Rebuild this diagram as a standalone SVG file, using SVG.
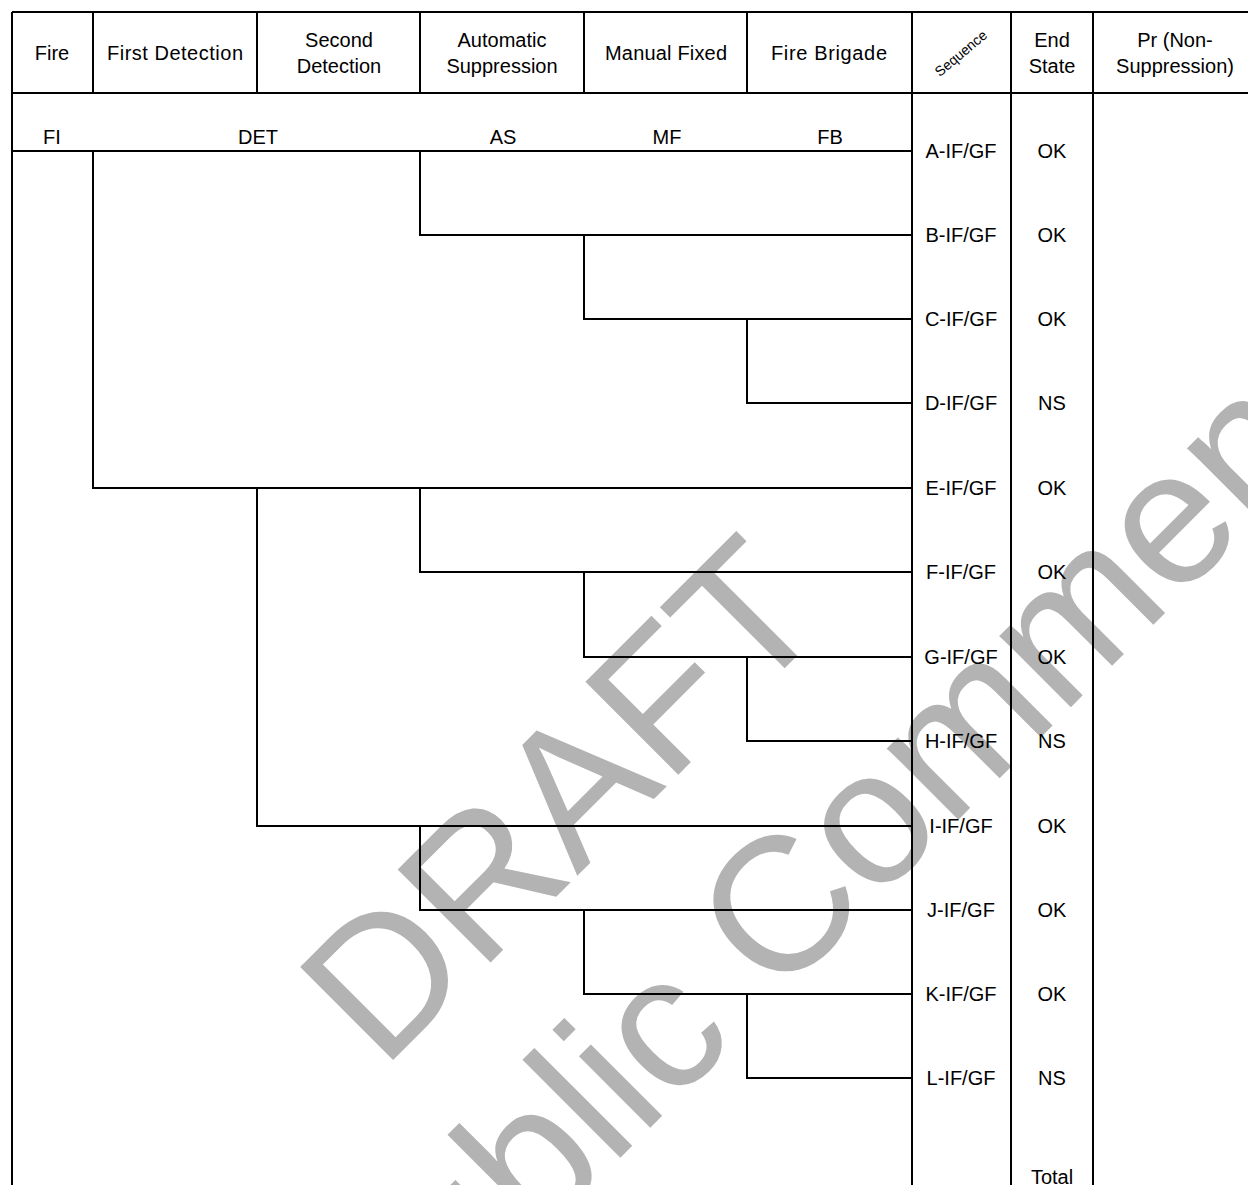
<svg xmlns="http://www.w3.org/2000/svg" width="1248" height="1185" viewBox="0 0 1248 1185">
<style>
.t{font-family:"Liberation Sans",Arial,sans-serif;font-size:20px;fill:#000;text-anchor:middle}
.wm{font-family:"Liberation Sans",Arial,sans-serif;font-size:191px;fill:#b3b3b3}
.g{stroke:#000;stroke-width:2;fill:none}
</style>
<rect width="1248" height="1185" fill="#fff"/>
<g id="watermark">
<text class="wm" transform="translate(382,1071) rotate(-45)">DRAFT</text>
<text class="wm" transform="translate(371,1407) rotate(-45)">Public Comment</text>
</g>
<g id="grid" class="g">
<path d="M12,12V1185M12,12H1248M12,93H1248M93,12V93M257,12V93M420,12V93M584,12V93M747,12V93M912,12V1185M1011,12V1185M1093,12V1185"/>
</g>
<g id="header">
<g id="h-fire"><text class="t" x="52" y="60">Fire</text></g>
<g id="h-first"><text class="t" x="175" y="60" textLength="136" lengthAdjust="spacing">First Detection</text></g>
<g id="h-second"><text class="t" x="339" y="47">Second</text><text class="t" x="339" y="73">Detection</text></g>
<g id="h-auto"><text class="t" x="502" y="47">Automatic</text><text class="t" x="502" y="73">Suppression</text></g>
<g id="h-manual"><text class="t" x="666" y="60" textLength="122" lengthAdjust="spacing">Manual Fixed</text></g>
<g id="h-brigade"><text class="t" x="829" y="60" textLength="116" lengthAdjust="spacing">Fire Brigade</text></g>
<g id="h-seq"><text class="t" style="font-size:14px" transform="translate(964,57) rotate(-40)">Sequence</text></g>
<g id="h-end"><text class="t" x="1052" y="47">End</text><text class="t" x="1052" y="73">State</text></g>
<g id="h-pr"><text class="t" x="1175" y="47">Pr (Non-</text><text class="t" x="1175" y="73">Suppression)</text></g>
</g>
<g id="event-labels">
<text class="t" x="52" y="144">FI</text>
<text class="t" x="258" y="144">DET</text>
<text class="t" x="503" y="144">AS</text>
<text class="t" x="667" y="144">MF</text>
<text class="t" x="830" y="144">FB</text>
</g>
<g id="connectors" class="g">
<path d="M12,151H912"/>
<path d="M93,151V488H912"/>
<path d="M420,151V235H912"/>
<path d="M584,235V319H912"/>
<path d="M747,319V403H912"/>
<path d="M257,488V826H912"/>
<path d="M420,488V572H912"/>
<path d="M584,572V657H912"/>
<path d="M747,657V741H912"/>
<path d="M420,826V910H912"/>
<path d="M584,910V994H912"/>
<path d="M747,994V1078H912"/>
</g>
<g id="seq-A"><text class="t" x="961" y="158">A-IF/GF</text><text class="t" x="1052" y="158">OK</text></g>
<g id="seq-B"><text class="t" x="961" y="242">B-IF/GF</text><text class="t" x="1052" y="242">OK</text></g>
<g id="seq-C"><text class="t" x="961" y="326">C-IF/GF</text><text class="t" x="1052" y="326">OK</text></g>
<g id="seq-D"><text class="t" x="961" y="410">D-IF/GF</text><text class="t" x="1052" y="410">NS</text></g>
<g id="seq-E"><text class="t" x="961" y="495">E-IF/GF</text><text class="t" x="1052" y="495">OK</text></g>
<g id="seq-F"><text class="t" x="961" y="579">F-IF/GF</text><text class="t" x="1052" y="579">OK</text></g>
<g id="seq-G"><text class="t" x="961" y="664">G-IF/GF</text><text class="t" x="1052" y="664">OK</text></g>
<g id="seq-H"><text class="t" x="961" y="748">H-IF/GF</text><text class="t" x="1052" y="748">NS</text></g>
<g id="seq-I"><text class="t" x="961" y="833">I-IF/GF</text><text class="t" x="1052" y="833">OK</text></g>
<g id="seq-J"><text class="t" x="961" y="917">J-IF/GF</text><text class="t" x="1052" y="917">OK</text></g>
<g id="seq-K"><text class="t" x="961" y="1001">K-IF/GF</text><text class="t" x="1052" y="1001">OK</text></g>
<g id="seq-L"><text class="t" x="961" y="1085">L-IF/GF</text><text class="t" x="1052" y="1085">NS</text></g>
<g id="total"><text class="t" x="1052" y="1184">Total</text></g>
</svg>
